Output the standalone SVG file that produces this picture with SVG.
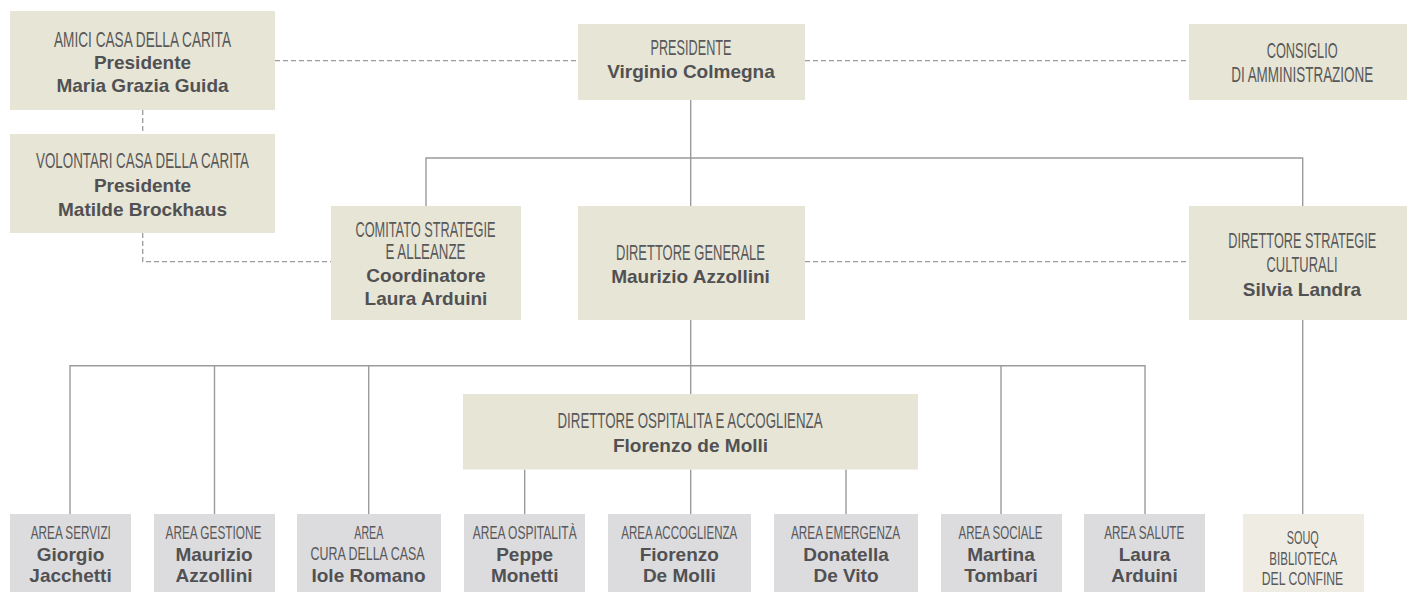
<svg xmlns="http://www.w3.org/2000/svg" width="1407" height="592" viewBox="0 0 1407 592">
<style>
.bx{fill:#e7e5d5}
.gy{fill:#dcdcde}
.sq{fill:#efede3}
.c{font-family:"Liberation Sans",Arial,sans-serif;font-size:21.5px;fill:#58585a;text-anchor:middle}
.s{font-family:"Liberation Sans",Arial,sans-serif;font-size:18.5px;fill:#58585a;text-anchor:middle}
.b{font-family:"Liberation Sans",Arial,sans-serif;font-size:19px;font-weight:bold;fill:#515153;text-anchor:middle}
.ln{stroke:#9b9b9b;stroke-width:1.4;fill:none}
.ds{stroke:#9b9b9b;stroke-width:1.3;fill:none;stroke-dasharray:5 3}
</style>
<g id="connectors">
<path class="ds" d="M275,60.7H578M805,60.7H1189M142.7,110V134M142.7,233V261.7H331M805,261.7H1189"/>
<path class="ln" d="M690.7,100V206M426,206V158H1302.7V206M690.7,320V394M1302.7,320V514M70,514V365.7H1145V514M214.5,365.7V514M368.7,365.7V514M1001,365.7V514M524.7,469.5V514M690.7,469.5V514M846,469.5V514"/>
</g>
<g id="amici">
<rect class="bx" x="10" y="11" width="265" height="99"/>
<text class="c" transform="translate(142.5 46.7) scale(0.65 1)" textLength="272.3" lengthAdjust="spacingAndGlyphs">AMICI CASA DELLA CARITA</text>
<text class="b" x="142.5" y="69.3">Presidente</text>
<text class="b" x="142.5" y="92">Maria Grazia Guida</text>
</g>
<g id="volontari">
<rect class="bx" x="10" y="134" width="265" height="99"/>
<text class="c" transform="translate(142.5 168.3) scale(0.65 1)" textLength="327.7" lengthAdjust="spacingAndGlyphs">VOLONTARI CASA DELLA CARITA</text>
<text class="b" x="142.5" y="191.7">Presidente</text>
<text class="b" x="142.5" y="215.5">Matilde Brockhaus</text>
</g>
<g id="presidente">
<rect class="bx" x="578" y="24" width="227" height="76"/>
<text class="c" transform="translate(691 55) scale(0.65 1)" textLength="124.6" lengthAdjust="spacingAndGlyphs">PRESIDENTE</text>
<text class="b" x="691" y="78.3">Virginio Colmegna</text>
</g>
<g id="consiglio">
<rect class="bx" x="1189" y="24" width="218" height="76"/>
<text class="c" transform="translate(1302.2 58.3) scale(0.65 1)" textLength="109.2" lengthAdjust="spacingAndGlyphs">CONSIGLIO</text>
<text class="c" transform="translate(1302.2 81.7) scale(0.65 1)" textLength="218.5" lengthAdjust="spacingAndGlyphs">DI AMMINISTRAZIONE</text>
</g>
<g id="comitato">
<rect class="bx" x="331" y="206" width="190" height="114"/>
<text class="c" transform="translate(425.5 237.3) scale(0.65 1)" textLength="215.4" lengthAdjust="spacingAndGlyphs">COMITATO STRATEGIE</text>
<text class="c" transform="translate(425.5 259) scale(0.65 1)" textLength="123.1" lengthAdjust="spacingAndGlyphs">E ALLEANZE</text>
<text class="b" x="426" y="282.3">Coordinatore</text>
<text class="b" x="426" y="304.7">Laura Arduini</text>
</g>
<g id="direttore-generale">
<rect class="bx" x="578" y="206" width="227" height="114"/>
<text class="c" transform="translate(690.5 260) scale(0.65 1)" textLength="229.2" lengthAdjust="spacingAndGlyphs">DIRETTORE GENERALE</text>
<text class="b" x="690.5" y="283.3">Maurizio Azzollini</text>
</g>
<g id="direttore-strategie">
<rect class="bx" x="1189" y="206" width="218" height="114"/>
<text class="c" transform="translate(1302.2 248.3) scale(0.65 1)" textLength="227.7" lengthAdjust="spacingAndGlyphs">DIRETTORE STRATEGIE</text>
<text class="c" transform="translate(1302 271.7) scale(0.65 1)" textLength="109.2" lengthAdjust="spacingAndGlyphs">CULTURALI</text>
<text class="b" x="1302" y="296">Silvia Landra</text>
</g>
<g id="direttore-ospitalita">
<rect class="bx" x="463" y="394" width="455" height="75.5"/>
<text class="c" transform="translate(690 428.3) scale(0.65 1)" textLength="407.7" lengthAdjust="spacingAndGlyphs">DIRETTORE OSPITALITA E ACCOGLIENZA</text>
<text class="b" x="690.5" y="451.7">Florenzo de Molli</text>
</g>
<g id="area-servizi">
<rect class="gy" x="10" y="514" width="121" height="78"/>
<text class="s" transform="translate(70.8 539.3) scale(0.65 1)" textLength="123.1" lengthAdjust="spacingAndGlyphs">AREA SERVIZI</text>
<text class="b" x="70.5" y="560.8">Giorgio</text>
<text class="b" x="70.5" y="581.7">Jacchetti</text>
</g>
<g id="area-gestione">
<rect class="gy" x="154" y="514" width="121" height="78"/>
<text class="s" transform="translate(213.5 539.3) scale(0.65 1)" textLength="147.7" lengthAdjust="spacingAndGlyphs">AREA GESTIONE</text>
<text class="b" x="214" y="560.8">Maurizio</text>
<text class="b" x="214" y="581.7">Azzollini</text>
</g>
<g id="area-cura">
<rect class="gy" x="297" y="514" width="144" height="78"/>
<text class="s" transform="translate(368.8 539.3) scale(0.65 1)" textLength="44.6" lengthAdjust="spacingAndGlyphs">AREA</text>
<text class="s" transform="translate(367.5 559.5) scale(0.65 1)" textLength="175.4" lengthAdjust="spacingAndGlyphs">CURA DELLA CASA</text>
<text class="b" x="368.5" y="581.7">Iole Romano</text>
</g>
<g id="area-ospitalita">
<rect class="gy" x="464" y="514" width="121" height="78"/>
<text class="s" transform="translate(524.7 539.3) scale(0.65 1)" textLength="160" lengthAdjust="spacingAndGlyphs">AREA OSPITALITÀ</text>
<text class="b" x="524.7" y="560.8">Peppe</text>
<text class="b" x="524.7" y="581.7">Monetti</text>
</g>
<g id="area-accoglienza">
<rect class="gy" x="608" y="514" width="143" height="78"/>
<text class="s" transform="translate(679.3 539.3) scale(0.65 1)" textLength="178.5" lengthAdjust="spacingAndGlyphs">AREA ACCOGLIENZA</text>
<text class="b" x="679.3" y="560.8">Fiorenzo</text>
<text class="b" x="679.3" y="581.7">De Molli</text>
</g>
<g id="area-emergenza">
<rect class="gy" x="774" y="514" width="144" height="78"/>
<text class="s" transform="translate(845.5 539.3) scale(0.65 1)" textLength="167.7" lengthAdjust="spacingAndGlyphs">AREA EMERGENZA</text>
<text class="b" x="846" y="560.8">Donatella</text>
<text class="b" x="846" y="581.7">De Vito</text>
</g>
<g id="area-sociale">
<rect class="gy" x="941" y="514" width="121" height="78"/>
<text class="s" transform="translate(1000.5 539.3) scale(0.65 1)" textLength="129.2" lengthAdjust="spacingAndGlyphs">AREA SOCIALE</text>
<text class="b" x="1001" y="560.8">Martina</text>
<text class="b" x="1001" y="581.7">Tombari</text>
</g>
<g id="area-salute">
<rect class="gy" x="1084" y="514" width="121" height="78"/>
<text class="s" transform="translate(1144.3 539.3) scale(0.65 1)" textLength="123.1" lengthAdjust="spacingAndGlyphs">AREA SALUTE</text>
<text class="b" x="1144.5" y="560.8">Laura</text>
<text class="b" x="1144.5" y="581.7">Arduini</text>
</g>
<g id="souq">
<rect class="sq" x="1243" y="514" width="121" height="78"/>
<text class="s" transform="translate(1302.8 544.3) scale(0.65 1)" textLength="49.2" lengthAdjust="spacingAndGlyphs">SOUQ</text>
<text class="s" transform="translate(1303.3 564.5) scale(0.65 1)" textLength="104.6" lengthAdjust="spacingAndGlyphs">BIBLIOTECA</text>
<text class="s" transform="translate(1302.5 585) scale(0.65 1)" textLength="125.4" lengthAdjust="spacingAndGlyphs">DEL CONFINE</text>
</g>
</svg>
